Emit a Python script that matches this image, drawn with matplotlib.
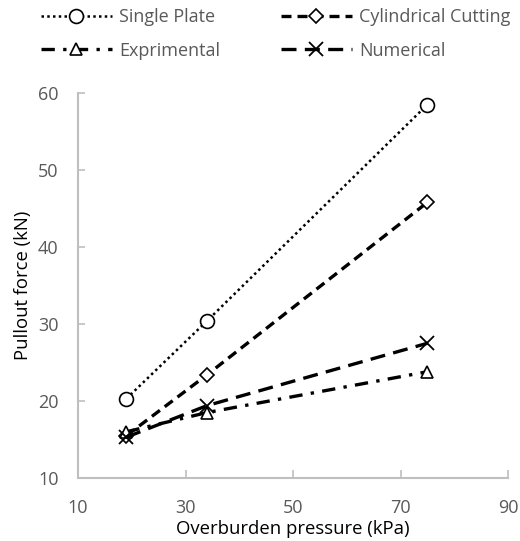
import numpy as np
import matplotlib
matplotlib.use("Agg")
from matplotlib import pyplot as plt

plt.rcParams['font.family'] = ['Open Sans', 'DejaVu Sans']

# datos
presion = [19, 34, 75]
single_plate = [20.3, 30.4, 58.5]
cilindrico = [15.5, 23.4, 45.8]
experimental = [16.0, 18.5, 23.8]
numerico = [15.3, 19.4, 27.5]

gris = '#595959'
eje = '#BFBFBF'

fig = plt.figure(figsize=(5.2, 5.41), dpi=100)
ax = fig.add_axes([0.15, 0.1165, 0.827, 0.7115])

l1, = ax.plot(presion, single_plate, color='black', lw=1.8, ls=(0, (1, 1.3)),
              marker='o', ms=10, mfc='white', mec='black', mew=1.2, label='Single Plate')
l2, = ax.plot(presion, cilindrico, color='black', lw=2.4, ls=(0, (3, 1.8)),
              marker='D', ms=7, mfc='white', mec='black', mew=1.2, label='Cylindrical Cutting')
l3, = ax.plot(presion, experimental, color='black', lw=2.4, ls=(0, (4, 2.5, 1, 2.5)),
              marker='^', ms=9, mfc='white', mec='black', mew=1.2, label='Exprimental')
l4, = ax.plot(presion, numerico, color='black', lw=2.4, ls=(0, (4.5, 2.5)),
              marker='x', ms=10, mec='black', mew=1.3, label='Numerical')

ax.set_xlim(10, 90)
ax.set_ylim(10, 60)
ax.set_xticks([10, 30, 50, 70, 90])
ax.set_yticks([10, 20, 30, 40, 50, 60])

for s in ['top', 'right']:
    ax.spines[s].set_visible(False)
for s in ['left', 'bottom']:
    ax.spines[s].set_color(eje)
    ax.spines[s].set_linewidth(1.5)

ax.tick_params(axis='x', direction='in', length=6, width=1.2, color=eje,
               labelsize=13, labelcolor=gris, pad=15)
ax.tick_params(axis='y', direction='in', length=5, width=1.2, color=eje,
               labelsize=13, labelcolor=gris, pad=14)

ax.set_xlabel('Overburden pressure (kPa)', fontsize=13.3, color='black', labelpad=2)
ax.set_ylabel('Pullout force (kN)', fontsize=13.3, color='black', labelpad=4)

# orden por filas como en la original
handles = [l1, l3, l2, l4]
fig.legend(handles, [h.get_label() for h in handles],
           loc='upper left', bbox_to_anchor=(0.055, 1.008), ncol=2, frameon=False,
           fontsize=13, handlelength=3.9, columnspacing=3.4, labelspacing=0.85,
           handletextpad=0.4, borderpad=0.2, labelcolor=gris)

fig.savefig('out.png', dpi=100)
